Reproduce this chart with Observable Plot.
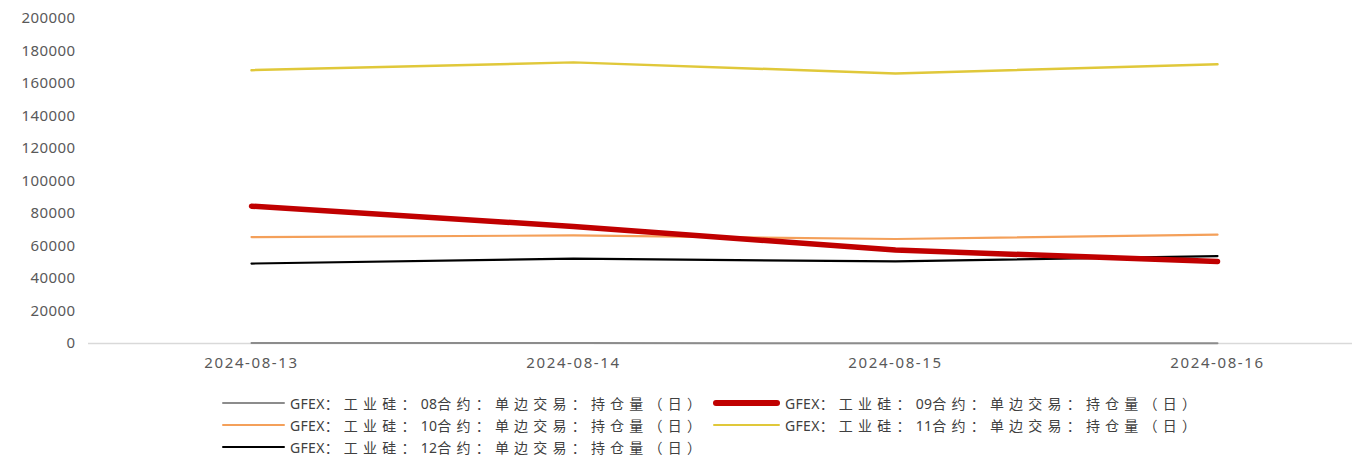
<!DOCTYPE html>
<html>
<head>
<meta charset="utf-8">
<script src="https://cdn.jsdelivr.net/npm/d3@7"></script>
<script src="https://cdn.jsdelivr.net/npm/@observablehq/plot@0.6"></script>
<style>
  html, body { margin: 0; padding: 0; background: #fff; }
  #wrap { position: relative; width: 1352px; height: 456px; font-family: "Noto Sans CJK SC", "Noto Sans", sans-serif; }
  #legend { position: absolute; left: 0; top: 0; width: 1352px; height: 456px; pointer-events: none; }
  .item { position: absolute; display: flex; align-items: center; height: 20px; font-size: 14px; color: #404040; white-space: nowrap; }
  .sw { display: inline-block; margin-right: 5px; border-radius: 3px; }
  .cjk { letter-spacing: 5.2px; }
  .lat { letter-spacing: 0.3px; font-family: "Noto Sans", sans-serif; }
  #chart g[aria-label="x-axis tick label"] text { letter-spacing: 1.6px; }
  #chart g[aria-label="y-axis tick label"] text { letter-spacing: 0.4px; }
</style>
</head>
<body>
<div id="wrap"><div id="chart"></div><div id="legend"></div></div>
<script>
const dates = ["2024-08-13", "2024-08-14", "2024-08-15", "2024-08-16"];
const seriesNames = [
  "GFEX：工业硅：08合约：单边交易：持仓量（日）",
  "GFEX：工业硅：09合约：单边交易：持仓量（日）",
  "GFEX：工业硅：10合约：单边交易：持仓量（日）",
  "GFEX：工业硅：11合约：单边交易：持仓量（日）",
  "GFEX：工业硅：12合约：单边交易：持仓量（日）"
];
const c08 = [300, 250, 150, 100];
const c09 = [84500, 72000, 57500, 50500];
const c10 = [65500, 66500, 64300, 67000];
const c11 = [168200, 173000, 166200, 171800];
const c12 = [49200, 52200, 50500, 53800];
const yTicks = [0, 20000, 40000, 60000, 80000, 100000, 120000, 140000, 160000, 180000, 200000];
const colors = ["#8c8c8c", "#c00000", "#f4a05a", "#e0c83a", "#000000"];
const widths = [2, 5.5, 2.2, 2.5, 2.2];

const allValues = [c08, c09, c10, c11, c12];
const rows = [];
allValues.forEach((arr, si) => arr.forEach((v, i) => rows.push({date: dates[i], value: v, series: seriesNames[si], si})));

const drawOrder = [0, 3, 2, 4, 1];
const marks = [Plot.ruleY([0], {stroke: "#d9d9d9", strokeWidth: 1.5})];
for (const si of drawOrder) {
  marks.push(Plot.line(rows.filter(d => d.si === si), {
    x: "date", y: "value", stroke: colors[si], strokeWidth: widths[si],
    strokeLinecap: "round", strokeLinejoin: "round"
  }));
}

const chart = Plot.plot({
  width: 1352,
  height: 378,
  marginLeft: 88,
  marginRight: 0,
  marginTop: 18,
  marginBottom: 35,
  style: {fontFamily: "'Noto Sans', sans-serif", fontSize: "15px", color: "#595959", background: "#fff"},
  x: {type: "point", domain: dates, padding: 0.4567, align: 0.546, label: null},
  y: {domain: [0, 200000], label: null},
  marks: [
    Plot.axisY({ticks: yTicks, tickSize: 0, tickPadding: 13, tickFormat: d => String(d), fontSize: 15, fill: "#595959", label: null}),
    Plot.axisX({tickSize: 0, tickPadding: 14, fontSize: 15, fill: "#595959", label: null}),
    ...marks
  ]
});
document.getElementById("chart").appendChild(chart);

// legend
const legend = document.getElementById("legend");
const layout = [
  {si: 0, left: 222, top: 393, sw: 63},
  {si: 1, left: 713, top: 393, sw: 67},
  {si: 2, left: 222, top: 415, sw: 63},
  {si: 3, left: 713, top: 415, sw: 67},
  {si: 4, left: 222, top: 437, sw: 63}
];
for (const L of layout) {
  const it = document.createElement("div");
  it.className = "item";
  it.style.left = L.left + "px";
  it.style.top = L.top + "px";
  const sw = document.createElement("span");
  sw.className = "sw";
  sw.style.width = L.sw + "px";
  sw.style.height = widths[L.si] + "px";
  sw.style.background = colors[L.si];
  it.appendChild(sw);
  const t = document.createElement("span");
  const parts = seriesNames[L.si].match(/[A-Za-z0-9]+|[^A-Za-z0-9]+/g);
  for (const p of parts) {
    const s = document.createElement("span");
    s.className = /[A-Za-z0-9]/.test(p) ? "lat" : "cjk";
    s.textContent = p;
    t.appendChild(s);
  }
  it.appendChild(t);
  legend.appendChild(it);
}
</script>
</body>
</html>
